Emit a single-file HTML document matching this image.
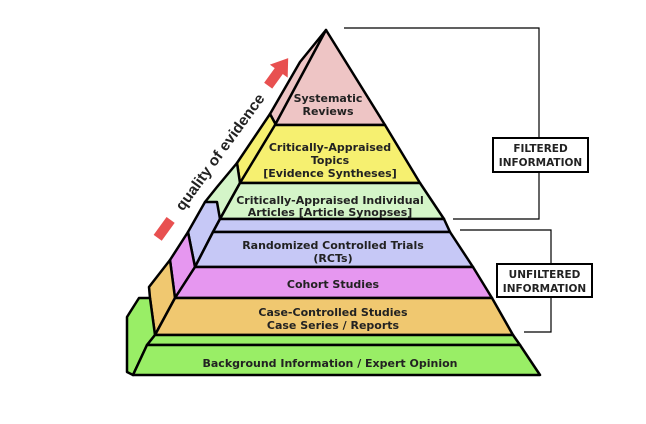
<!DOCTYPE html>
<html><head><style>
html,body{margin:0;padding:0;background:#fff;width:646px;height:424px;overflow:hidden}
svg text{font-family:"DejaVu Sans","Liberation Sans",sans-serif;font-weight:bold;fill:#222}
</style></head><body>
<svg width="646" height="424" viewBox="0 0 646 424" xmlns="http://www.w3.org/2000/svg">
<rect x="0" y="0" width="646" height="424" fill="#fff"/>
<g stroke="#000" stroke-width="2.5" stroke-linejoin="round">
<polygon points="326,30 300,62 270,114 276,125" fill="#eec5c5"/>
<polygon points="270,114 276,125 240,183 237,163" fill="#f6f070"/>
<polygon points="237,163 240,183 220,219 213,232 205,202 217,187" fill="#d4f5c8"/>
<polygon points="205,202 217,202 220,219 213,232 195,267 188,232" fill="#c6c8f6"/>
<polygon points="188,232 195,267 175,298 170,260" fill="#e697f0"/>
<polygon points="170,260 175,298 155,335 150,298 149,287" fill="#f0c870"/>
<polygon points="127,317 139,298 150,298 155,335 147,345 133,375 127,372" fill="#99ee66"/>
<polygon points="326,30 385,125 275,125" fill="#eec5c5"/>
<polygon points="275,125 385,125 420,183 240,183" fill="#f6f070"/>
<polygon points="240,183 420,183 444,219 220,219" fill="#d4f5c8"/>
<polygon points="220,219 444,219 450,232 213,232" fill="#c6c8f6"/>
<polygon points="213,232 450,232 473,267 195,267" fill="#c6c8f6"/>
<polygon points="195,267 473,267 492,298 175,298" fill="#e697f0"/>
<polygon points="175,298 492,298 513,335 155,335" fill="#f0c870"/>
<polygon points="155,335 513,335 520,345 147,345" fill="#99ee66"/>
<polygon points="147,345 520,345 540,375 133,375" fill="#99ee66"/>
</g>
<g stroke="#000" stroke-width="1.2" fill="none">
<polyline points="344,28 539,28 539,219 453,219"/>
<polyline points="460,230 551,230 551,332 524,332"/>
</g>
<rect x="493" y="138" width="95" height="34" fill="#fff" stroke="#000" stroke-width="2"/>
<text x="540.5" y="152" font-size="10.5" text-anchor="middle">FILTERED</text>
<text x="540.5" y="166" font-size="10.5" text-anchor="middle">INFORMATION</text>
<rect x="497" y="264" width="95" height="33" fill="#fff" stroke="#000" stroke-width="2"/>
<text x="544.5" y="278" font-size="10.5" text-anchor="middle">UNFILTERED</text>
<text x="544.5" y="292" font-size="10.5" text-anchor="middle">INFORMATION</text>
<g font-size="11" text-anchor="middle">
<text x="328" y="102">Systematic</text>
<text x="328" y="115">Reviews</text>
<text x="330" y="151">Critically-Appraised</text>
<text x="330" y="164">Topics</text>
<text x="330" y="177">[Evidence Syntheses]</text>
<text x="330" y="204">Critically-Appraised Individual</text>
<text x="330" y="216">Articles [Article Synopses]</text>
<text x="333" y="249">Randomized Controlled Trials</text>
<text x="333" y="262">(RCTs)</text>
<text x="333" y="288">Cohort Studies</text>
<text x="333" y="316">Case-Controlled Studies</text>
<text x="333" y="329">Case Series / Reports</text>
<text x="330" y="367">Background Information / Expert Opinion</text>
</g>
<g transform="translate(220,152) rotate(-54)">
<rect x="-106" y="-5" width="22" height="10" fill="#e85050"/>
<text x="0" y="5" font-size="15" text-anchor="middle" fill="#333" style="font-family:'Liberation Sans',sans-serif" textLength="140" lengthAdjust="spacingAndGlyphs">quality of evidence</text>
<rect x="82" y="-5" width="20" height="10" fill="#e85050"/>
<polygon points="100,-11 116,0 100,11" fill="#e85050"/>
</g>
</svg>
</body></html>
